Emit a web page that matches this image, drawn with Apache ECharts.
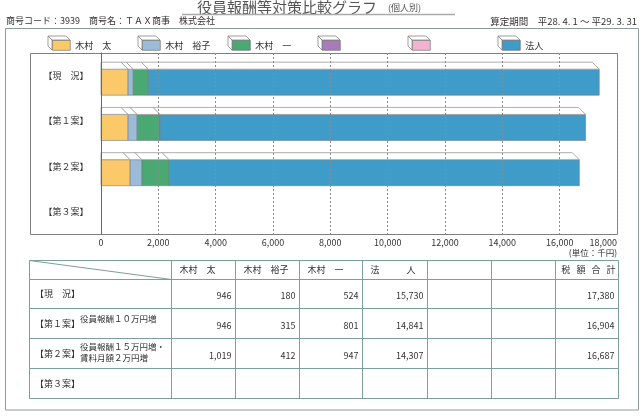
<!DOCTYPE html>
<html>
<head>
<meta charset="utf-8">
<script src="https://cdn.jsdelivr.net/npm/echarts@6/dist/echarts.min.js"></script>
<style>
html,body{margin:0;padding:0;background:#fff;}
#c{width:644px;height:418px;}
</style>
</head>
<body>
<div id="c"></div>
<script>
// ---- data ----
const categories = ['【現　況】', '【第１案】', '【第２案】', '【第３案】'];
const seriesNames = ['木村　太', '木村　裕子', '木村　一', '\u3000', '\u3000\u3000', '法人'];
const seriesColors = ['#fcc96a', '#9bbbd7', '#4aa872', '#a87bba', '#f2b3d3', '#3f9cc9'];
const kimuraFutoshi = [946, 946, 1019];
const kimuraYuko = [180, 315, 412];
const kimuraHajime = [524, 801, 947];
const purpleValues = [];
const pinkValues = [];
const houjin = [15730, 14841, 14307];
const totals = [17380, 16904, 16687];
const axisMin = 0, axisMax = 18000, axisInterval = 2000;
const tableHeaders = ['木村　太', '木村　裕子', '木村　一', '法　　　人', '', '', '税   額   合   計'];
const planNotes = ['', '役員報酬１０万円増', '役員報酬１５万円増・\n賃料月額２万円増', ''];
const titleText = '役員報酬等対策比較グラフ';
const titleSub = '(個人別)';
const companyText = '商号コード：3939　商号名：ＴＡＸ商事　株式会社';
const periodText = '算定期間　平28. 4. 1 ～ 平29. 3. 31';
const unitText = '(単位：千円)';

const valueSets = [kimuraFutoshi, kimuraYuko, kimuraHajime, purpleValues, pinkValues, houjin];

// ---- stacked segments ----
const cum = categories.map(() => 0);
const segData = valueSets.map(vals => {
  const out = [];
  vals.forEach((v, ci) => {
    out.push([ci, cum[ci], cum[ci] + v]);
    cum[ci] += v;
  });
  return out;
});

const FONT = '"Noto Sans CJK JP", sans-serif';
const TXT = '#333';

function renderItem(params, api) {
  const cat = api.value(0), s = api.value(1), e = api.value(2);
  if (e - s <= 0) return null;
  const p0 = api.coord([s, cat]);
  const p1 = api.coord([e, cat]);
  const axisX = api.coord([0, cat])[0];
  const band = api.size([0, 1])[1];
  const h = band * 0.575;
  const cy = p0[1] + band * 0.145;
  const top = cy - h / 2;
  const d = 7;
  const bl = Math.max(p0[0] - d, axisX);
  return {
    type: 'group',
    children: [
      { type: 'rect', shape: { x: p0[0], y: top, width: p1[0] - p0[0], height: h },
        style: { fill: api.visual('color'), stroke: '#6d7a80', lineWidth: 0.6 } },
      { type: 'polygon', shape: { points: [[p0[0], top], [bl, top - d], [p1[0] - d, top - d], [p1[0], top]] },
        style: { fill: '#fff', stroke: '#9a9a9a', lineWidth: 0.8 } }
    ]
  };
}

const series = seriesNames.map((n, i) => ({
  name: n,
  type: 'custom',
  z: -1,
  renderItem: renderItem,
  itemStyle: { color: seriesColors[i] },
  encode: { x: [1, 2], y: 0 },
  data: segData[i]
}));

// ---- graphics ----
const g = [];
function txt(x, y, text, opts) {
  opts = opts || {};
  g.push({ type: 'text', x: x, y: y, silent: true, style: Object.assign({
    text: text, fill: TXT, fontSize: 9, fontFamily: FONT, align: 'left', verticalAlign: 'middle'
  }, opts) });
}
function line(x1, y1, x2, y2, color, w) {
  g.push({ type: 'line', silent: true, shape: { x1: x1, y1: y1, x2: x2, y2: y2 },
    style: { stroke: color, lineWidth: w || 1 } });
}
// title
txt(197, 7.5, titleText, { fontSize: 15, fill: '#555' });
txt(388, 8, titleSub, { fontSize: 9, fill: '#555' });
line(182, 14.5, 455, 14.5, '#aaa', 1.5);
txt(6, 21, companyText, { fontSize: 9 });
txt(637, 21, periodText, { fontSize: 9.5, align: 'right' });
// frames
g.push({ type: 'rect', silent: true, shape: { x: 5.5, y: 28.5, width: 633, height: 381.5 },
  style: { fill: 'transparent', stroke: '#8d9c9a', lineWidth: 1 } });
g.push({ type: 'rect', silent: true, shape: { x: 30.5, y: 53.5, width: 587, height: 181 },
  style: { fill: 'transparent', stroke: '#7f7f7f', lineWidth: 1 } });
txt(617, 253, unitText, { fontSize: 8.5, align: 'right' });
// legend 3D outlines
const legendX = seriesNames.map((n, i) => 52 + 90 * i);
const legendY = 40;
legendX.forEach(x0 => {
  const y0 = legendY, w = 18, hh = 10, dd = 4;
  g.push({ type: 'polygon', silent: true, z: 10,
    shape: { points: [[x0, y0], [x0 - dd, y0 - dd], [x0 + w - dd, y0 - dd], [x0 + w, y0]] },
    style: { fill: '#fff', stroke: '#777', lineWidth: 0.7 } });
  g.push({ type: 'polygon', silent: true, z: 10,
    shape: { points: [[x0, y0], [x0 - dd, y0 - dd], [x0 - dd, y0 + hh - dd], [x0, y0 + hh]] },
    style: { fill: '#fff', stroke: '#777', lineWidth: 0.7 } });
});
// table
const colX = [29.5, 171.5, 235.5, 299.5, 362.5, 427.5, 491.5, 555.5, 618.5];
const rowY = [260.5, 279.5, 308.5, 338.5, 368.5, 398.5];
const TC = '#7b9f99';
colX.forEach(x => line(x, rowY[0], x, rowY[rowY.length - 1], TC, 1));
rowY.forEach(y => line(colX[0], y, colX[colX.length - 1], y, TC, 1));
line(colX[0], rowY[0], colX[1], rowY[1], TC, 1);
tableHeaders.forEach((h, i) => {
  if (!h) return;
  if (i === tableHeaders.length - 1) txt(colX[i + 2] - 3, 270, h, { align: 'right' });
  else txt(colX[i + 1] + 8, 270, h);
});
const rowVals = [kimuraFutoshi, kimuraYuko, kimuraHajime, houjin];
const rowValCols = [1, 2, 3, 4];
categories.forEach((c, r) => {
  const cyc = (rowY[r + 1] + rowY[r + 2]) / 2;
  txt(35, cyc, c);
  if (planNotes[r]) txt(80, cyc - (planNotes[r].indexOf('\n') >= 0 ? 1 : 5), planNotes[r], { fontSize: 8.5, lineHeight: 11 });
  rowVals.forEach((vals, k) => {
    if (vals[r] === undefined) return;
    txt(colX[rowValCols[k] + 1] - 4, cyc + 2, vals[r].toLocaleString('en-US'), { align: 'right' });
  });
  if (totals[r] !== undefined) txt(colX[8] - 4, cyc + 2, totals[r].toLocaleString('en-US'), { align: 'right' });
});

const legends = seriesNames.map((n, i) => ({
  left: legendX[i], top: legendY, itemWidth: 18, itemHeight: 10, icon: 'rect',
  padding: 0,
  itemStyle: { borderColor: '#666', borderWidth: 0.6 },
  textStyle: { fontSize: 9, color: TXT, lineHeight: 10, fontFamily: FONT },
  data: [n]
}));

const chart = echarts.init(document.getElementById('c'), null, { renderer: 'canvas' });
chart.setOption({
  animation: false,
  backgroundColor: '#fff',
  textStyle: { fontFamily: FONT },
  legend: legends,
  grid: { left: 101, right: 27, top: 53, bottom: 184, containLabel: false },
  xAxis: {
    type: 'value', min: axisMin, max: axisMax, interval: axisInterval,
    axisLine: { show: false }, axisTick: { show: false },
    axisLabel: { fontSize: 9, color: TXT, margin: 4, alignMaxLabel: 'right',
      formatter: v => v.toLocaleString('en-US') },
    splitLine: { show: true, lineStyle: { color: '#8a8a8a', type: [2, 2], width: 1 } }
  },
  yAxis: {
    type: 'category', inverse: true, data: categories,
    axisLine: { show: true, lineStyle: { color: '#666', width: 1 } },
    axisTick: { show: false },
    axisLabel: { fontSize: 9, color: TXT, margin: 35, align: 'center', padding: [13, 0, 0, 0] },
    splitLine: { show: false }
  },
  graphic: { elements: g },
  series: series
});
</script>
</body>
</html>
